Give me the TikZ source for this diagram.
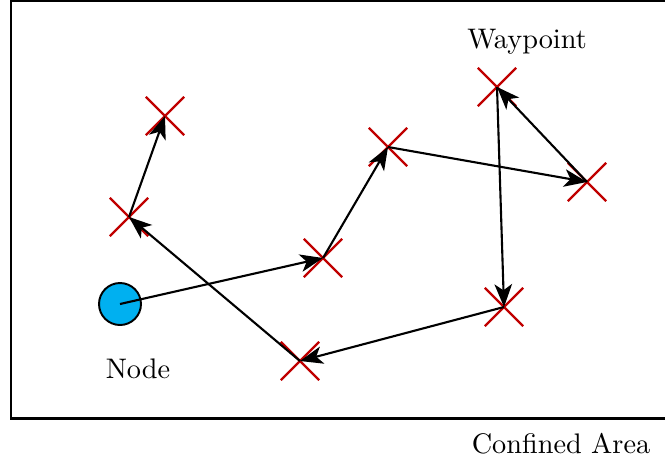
\documentclass[tikz,border=0pt]{standalone}
\usepackage{tikz}
\usetikzlibrary{shapes.misc, arrows.meta}
\definecolor{wayred}{RGB}{192,0,0}
\definecolor{nodeblue}{RGB}{0,176,240}
\newcommand{\biglabel}[1]{\scalebox{1.61}{#1}}

\begin{document}
\begin{tikzpicture}[
  x=0.02cm, y=-0.02cm,
  every node/.style={font=\normalsize},
  waypt/.style={draw=wayred, cross out, line width=1.3pt, minimum size=0.72cm, inner sep=0pt},
  arrow/.style={-{Stealth[length=13pt, width=10pt, inset=3.5pt]}, line width=1.2pt}
]
  \useasboundingbox (0,0) rectangle (665,464);
  % confined area (right side runs off the page)
  \draw[line width=1.7pt] (665,1) -- (11,1) -- (11,418) -- (665,418);

  \node[circle, draw, fill=nodeblue, line width=1.1pt, minimum size=0.84cm, inner sep=0pt]
        (start) at (120,304) {};
  \node[waypt] (w1) at (323,258) {};
  \node[waypt] (w2) at (388,147) {};
  \node[waypt] (w3) at (587,182) {};
  \node[waypt] (w4) at (497,87)  {};
  \node[waypt] (w5) at (504,307) {};
  \node[waypt] (w6) at (300,361) {};
  \node[waypt] (w7) at (129,217) {};
  \node[waypt] (w8) at (165,116) {};

  \node[anchor=base] (lnode) at (138,378) {\biglabel{Node}};
  \node[anchor=base] (lway)  at (527,48)  {\biglabel{Waypoint}};
  \node[anchor=base] (larea) at (561,453) {\biglabel{Confined Area}};

  % path through the waypoints
  \draw[arrow] (start.center) -- (w1.center);
  \draw[arrow] (w1.center) -- (w2.center);
  \draw[arrow] (w2.center) -- (w3.center);
  \draw[arrow] (w3.center) -- (w4.center);
  \draw[arrow] (w4.center) -- (w5.center);
  \draw[arrow] (w5.center) -- (w6.center);
  \draw[arrow] (w6.center) -- (w7.center);
  \draw[arrow] (w7.center) -- (w8.center);
\end{tikzpicture}
\end{document}
